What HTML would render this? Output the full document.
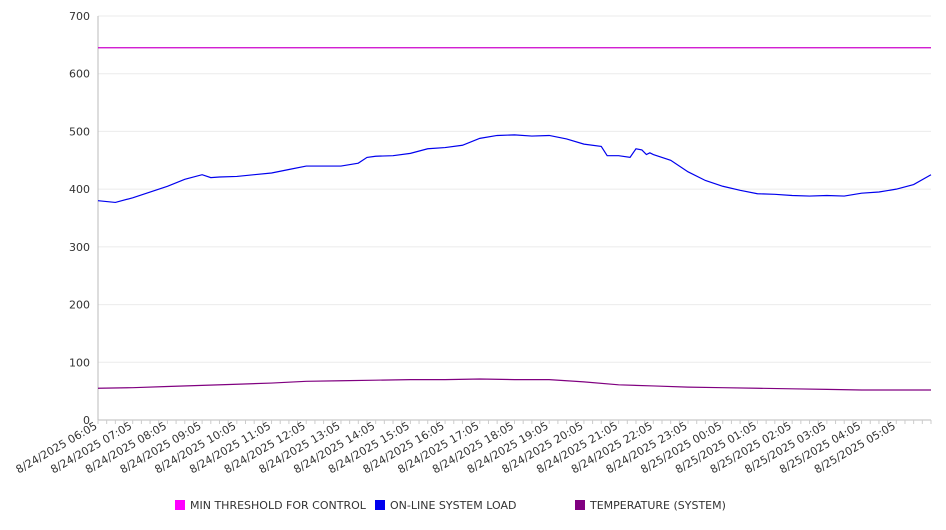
<!DOCTYPE html>
<html><head><meta charset="utf-8"><style>
body{margin:0;background:#fff;font-family:"DejaVu Sans","Liberation Sans",sans-serif}
svg text{font-family:"DejaVu Sans","Liberation Sans",sans-serif}
</style></head><body>
<svg id="c" width="946" height="526"></svg>
<script>
const xTickLabels=["8/24/2025 06:05","8/24/2025 07:05","8/24/2025 08:05","8/24/2025 09:05","8/24/2025 10:05","8/24/2025 11:05","8/24/2025 12:05","8/24/2025 13:05","8/24/2025 14:05","8/24/2025 15:05","8/24/2025 16:05","8/24/2025 17:05","8/24/2025 18:05","8/24/2025 19:05","8/24/2025 20:05","8/24/2025 21:05","8/24/2025 22:05","8/24/2025 23:05","8/25/2025 00:05","8/25/2025 01:05","8/25/2025 02:05","8/25/2025 03:05","8/25/2025 04:05","8/25/2025 05:05"];
const yTicks=[0,100,200,300,400,500,600,700];
const loadHours=[0,0.5,1,1.5,2,2.5,3,3.25,3.5,4,4.5,5,5.5,6,6.5,7,7.5,7.75,8,8.5,9,9.5,10,10.5,11,11.5,12,12.5,13,13.5,14,14.5,14.67,15,15.33,15.5,15.67,15.8,15.9,16,16.5,17,17.5,18,18.5,19,19.5,20,20.5,21,21.5,22,22.5,23,23.5,24];
const loadValues=[380,377,385,395,405,417,425,420,421,422,425,428,434,440,440,440,445,455,457,458,462,470,472,476,488,493,494,492,493,487,478,474,458,458,455,470,468,460,463,460,450,430,415,405,398,392,391,389,388,389,388,393,395,400,408,425];
const tempHours=[0,1,2,3,4,5,6,7,8,9,10,11,12,13,14,15,16,17,18,19,20,21,22,23,24];
const tempValues=[55,56,58,60,62,64,67,68,69,70,70,71,70,70,66,61,59,57,56,55,54,53,52,52,52];
const thresholdValue=645;
const series=[["MIN THRESHOLD FOR CONTROL","#ff00ff"],["ON-LINE SYSTEM LOAD","#0000ee"],["TEMPERATURE (SYSTEM)","#800080"]];
const NS="http://www.w3.org/2000/svg",svg=document.getElementById('c');
const X0=98,X1=931,Y0=420,Y1=16;
const x=h=>X0+h/24*(X1-X0), y=v=>Y0-v/700*(Y0-Y1);
function mk(t,a,p){const e=document.createElementNS(NS,t);for(const k in a)e.setAttribute(k,a[k]);(p||svg).appendChild(e);return e;}
yTicks.forEach(v=>{
 const g=mk('line',{x1:X0,x2:X1,y1:y(v),y2:y(v),stroke:v?'#ebebeb':'#bbb','stroke-width':1});
 
 
 const t=mk('text',{x:90,y:y(v)+4,'text-anchor':'end','font-size':11,fill:'#333'});t.textContent=v;
 
 
});
const ax=mk('line',{x1:X0,x2:X0,y1:Y1,y2:Y0,stroke:'#bbb'});


for(let i=0;i<=96;i++){const m=mk('line',{x1:x(i/4),x2:x(i/4),y1:Y0,y2:Y0+4,stroke:'#ccc'});}
xTickLabels.forEach((l,i)=>{
 const t=mk('text',{x:x(i),y:Y0+8,'text-anchor':'end','font-size':11,fill:'#333',transform:`rotate(-30 ${x(i)} ${Y0+8})`});t.textContent=l;
 
 
});
function line(hs,vs,col,name){const p=mk('polyline',{points:hs.map((h,i)=>x(h)+','+y(vs[i])).join(' '),fill:'none',stroke:col,'stroke-width':1.2});
 
 }
line([0,24],[thresholdValue,thresholdValue],'#cc00cc','threshold-line');
line(loadHours,loadValues,'#0000ee','system-load-line');
line(tempHours,tempValues,'#800080','temperature-line');
const lx=[175,375,575];
series.forEach((s,i)=>{
 const r=mk('rect',{x:lx[i],y:500,width:10,height:10,fill:s[1]});
 
 
 const t=mk('text',{x:lx[i]+15,y:509,'font-size':11,fill:'#333'});t.textContent=s[0];
 
 
});
</script>
</body></html>
